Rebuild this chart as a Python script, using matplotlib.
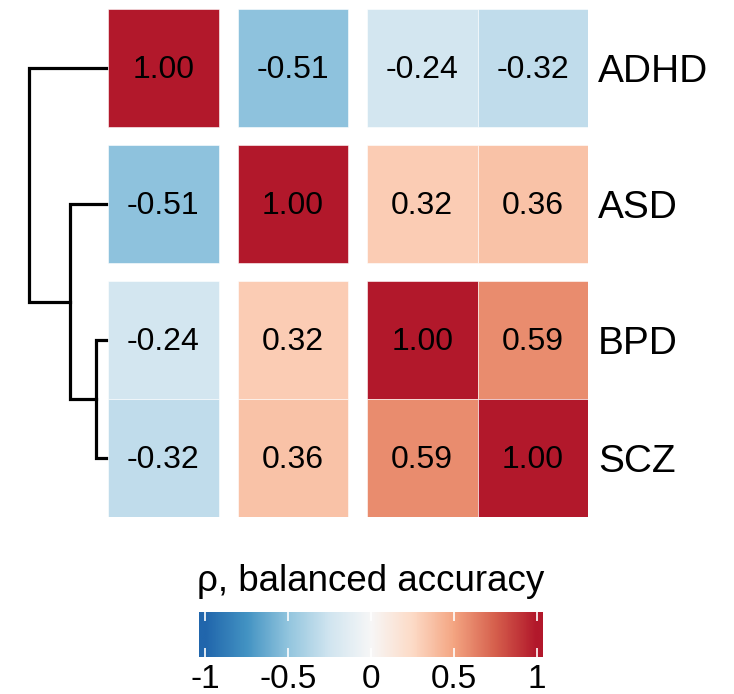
import numpy as np
import matplotlib
matplotlib.use('Agg')
import matplotlib.pyplot as plt
from matplotlib.colors import LinearSegmentedColormap, Normalize
from matplotlib.patches import Rectangle
from matplotlib.transforms import offset_copy

plt.rcParams['font.family'] = ['Liberation Sans', 'DejaVu Sans']

# data
labels = ['ADHD', 'ASD', 'BPD', 'SCZ']
rho = [
    [1.00, -0.51, -0.24, -0.32],
    [-0.51, 1.00, 0.32, 0.36],
    [-0.24, 0.32, 1.00, 0.59],
    [-0.32, 0.36, 0.59, 1.00],
]
col_split = [0, 1, 2, 2]
row_split = [0, 1, 2, 2]
# dendrogram merges: (left, right, height); nodes 4.. are the merged clusters
merges = [(2, 3, 0.13), (1, 4, 0.47), (0, 5, 1.0)]
cbar_ticks = [-1, -0.5, 0, 0.5, 1]
cbar_ticklabels = ['-1', '-0.5', '0', '0.5', '1']

cmap = LinearSegmentedColormap.from_list('rdbu', ['#2166AC', '#4393C3', '#92C5DE', '#D1E5F0', '#F7F7F7',
                                                  '#FDDBC7', '#F4A582', '#D6604D', '#B2182B'])
norm = Normalize(vmin=-1, vmax=1)

W, H = 734, 694
fig = plt.figure(figsize=(W / 100, H / 100), dpi=100)


def px_rect(left, top, width, height):
    return [left / W, 1 - (top + height) / H, width / W, height / H]


gx = 19 / 110.5
gy = 18 / 118
ax = fig.add_axes(px_rect(108, 9, 480, 508))
ax.set_xlim(0, 4 + 2 * gx)
ax.set_ylim(4 + 2 * gy, 0)
ax.axis('off')

cell_tr = offset_copy(ax.transData, fig=fig, x=0, y=-2, units='dots')
for i in range(4):
    for j in range(4):
        x0 = j + gx * col_split[j]
        y0 = i + gy * row_split[i]
        v = rho[i][j]
        ax.add_patch(Rectangle((x0, y0), 1, 1, facecolor=cmap(norm(v)), edgecolor='white', lw=0.4))
        ax.text(x0 + 0.5, y0 + 0.5, f'{v:.2f}', ha='center', va='center', fontsize=23,
                color='black', transform=cell_tr)

lab_tr = offset_copy(ax.transData, fig=fig, x=10, y=-4, units='dots')
row_y = [i + 0.5 + gy * row_split[i] for i in range(4)]
for i, name in enumerate(labels):
    ax.text(4 + 2 * gx, row_y[i], name, ha='left', va='center', fontsize=28, transform=lab_tr)

# dendrogram
dax = fig.add_axes(px_rect(25, 9, 81, 508))
dax.set_xlim(1.05, 0)
dax.set_ylim(4 + 2 * gy, 0)
dax.axis('off')
node_y = list(row_y)
node_h = [0, 0, 0, 0]
for a, b, h in merges:
    dax.plot([node_h[a], h, h, node_h[b]], [node_y[a], node_y[a], node_y[b], node_y[b]],
             color='black', lw=2.3, solid_joinstyle='miter', clip_on=False)
    node_y.append((node_y[a] + node_y[b]) / 2)
    node_h.append(h)

# colour bar
cax = fig.add_axes(px_rect(199, 612, 344, 45))
grad = np.linspace(-1.035, 1.035, 512)
cax.imshow(grad[None, :], aspect='auto', cmap=cmap, norm=norm, extent=(-1.035, 1.035, 0, 1))
cax.set_xlim(-1.035, 1.035)
cax.set_yticks([])
cax.set_xticks(cbar_ticks)
cax.set_xticklabels(cbar_ticklabels)
cax.tick_params(axis='x', direction='in', color='white', length=6.5, width=1.2, top=True,
                labelsize=24, pad=5)
for s in cax.spines.values():
    s.set_visible(False)

fig.text(371 / W, 1 - 591 / H, 'ρ, balanced accuracy', ha='center', va='baseline', fontsize=26.5)

plt.savefig('out.png', dpi=100)
